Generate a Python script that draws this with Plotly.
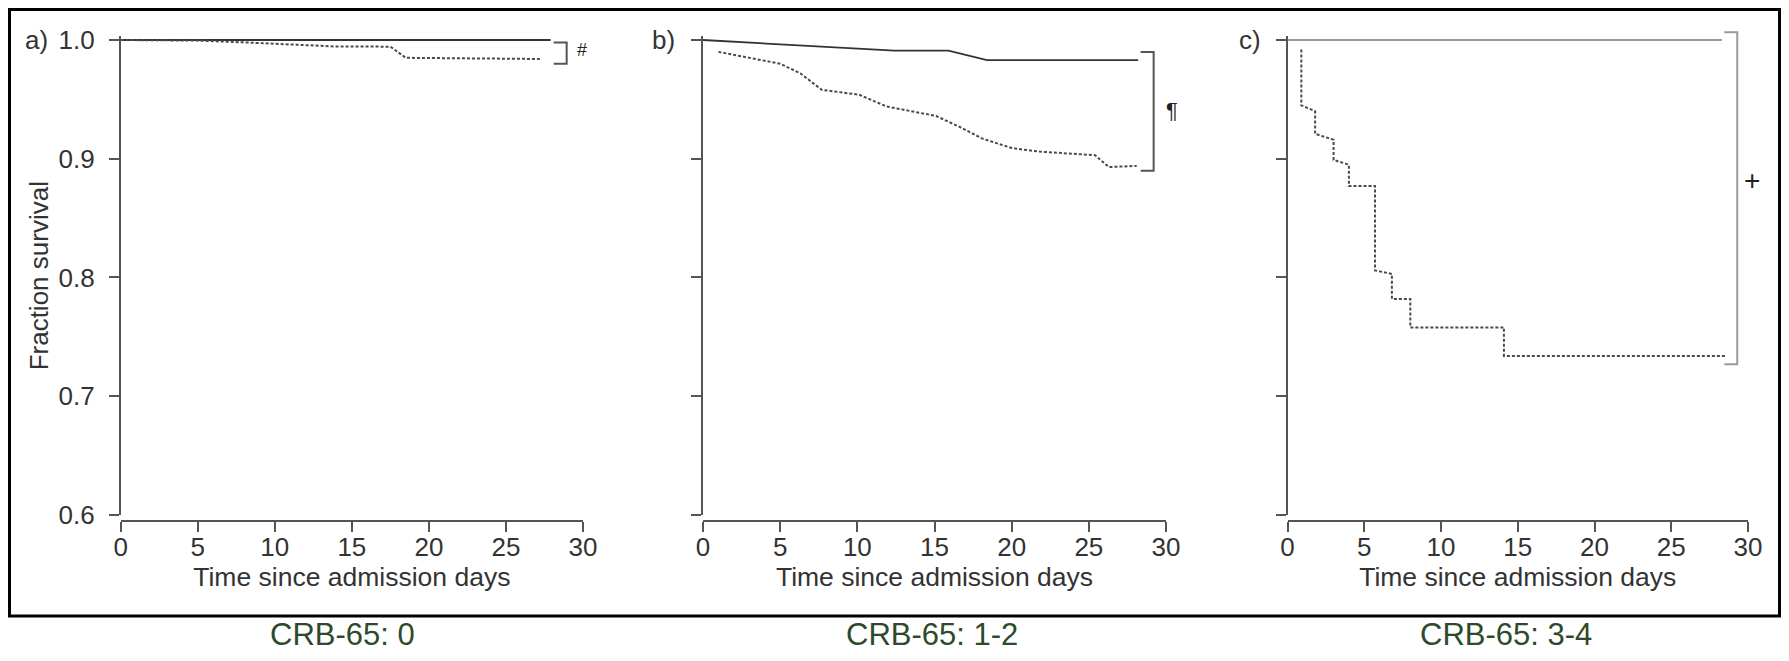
import plotly.graph_objects as go

# The page body has an 8px margin, so the figure is drawn 16px smaller and every
# page-pixel position below is shifted by that margin.
PAGE_W, PAGE_H = 1789, 661
OFF = 8
W, H = PAGE_W - 2 * OFF, PAGE_H - 2 * OFF

# ---------------- data ----------------
panel_labels = ["a)", "b)", "c)"]
captions = ["CRB-65: 0", "CRB-65: 1-2", "CRB-65: 3-4"]
sig_marks = ["#", "¶", "+"]

x_ticks = [0, 5, 10, 15, 20, 25, 30]
y_ticks = [0.6, 0.7, 0.8, 0.9, 1.0]
y_tick_labels = ["0.6", "0.7", "0.8", "0.9", "1.0"]

# Panel a (CRB-65: 0)
a_solid_days = [0, 27.9]
a_solid_surv = [1.0, 1.0]
a_dash_days = [0, 5, 8, 10, 12, 14, 17.5, 18.5, 27.2]
a_dash_surv = [1.0, 0.9995, 0.998, 0.997, 0.9955, 0.9945, 0.9944, 0.985, 0.984]

# Panel b (CRB-65: 1-2)
b_solid_days = [0, 12.4, 15.9, 18.4, 28.2]
b_solid_surv = [1.0, 0.991, 0.991, 0.983, 0.983]
b_dash_days = [1.0, 5.0, 6.3, 7.7, 10.1, 11.9, 15.1, 16.6, 18.1, 20.0, 21.8, 25.4, 26.3, 28.1]
b_dash_surv = [0.990, 0.980, 0.972, 0.958, 0.954, 0.944, 0.936, 0.927, 0.917, 0.909, 0.906, 0.903, 0.893, 0.894]

# Panel c (CRB-65: 3-4)
c_solid_days = [0, 28.3]
c_solid_surv = [1.0, 1.0]
c_dash_days = [0.9, 0.9, 1.8, 1.8, 3.0, 3.0, 4.0, 4.0, 5.7, 5.7, 6.8, 6.8, 8.0, 8.0, 14.1, 14.1, 28.5]
c_dash_surv = [0.992, 0.945, 0.940, 0.921, 0.916, 0.899, 0.895, 0.877, 0.877, 0.806, 0.803, 0.782, 0.782, 0.758, 0.758, 0.734, 0.734]

# comparison brackets (day position, top, bottom)
bracket_day = [28.94, 29.2, 29.3]
bracket_top = [0.998, 0.990, 1.0065]
bracket_bottom = [0.980, 0.890, 0.727]
mark_day = [29.95, 30.4, 30.25]
mark_val = [0.9916, 0.941, 0.882]

# ---------------- layout geometry (page pixels) ----------------
x_px = [(120.7, 583.0), (703.0, 1166.0), (1287.5, 1748.0)]
Y_RANGE = [0.6, 1.003]
PX_PER_UNIT = 1187.5
y_bottom_px = 515.0
y_top_px = y_bottom_px - (Y_RANGE[1] - Y_RANGE[0]) * PX_PER_UNIT
xaxis_line_px = 521.0

FONT = "Liberation Sans, Arial, Helvetica, sans-serif"
TXT = "#333333"
AX = "#555555"


def px2x(p):
    return (p - OFF) / W


def px2y(p):
    return 1 - (p - OFF) / H


def data2paper(i, day, val):
    x0, x1 = x_px[i]
    xp = x0 + day / 30.0 * (x1 - x0)
    yp = y_bottom_px - (val - Y_RANGE[0]) * PX_PER_UNIT
    return px2x(xp), px2y(yp)


fig = go.Figure()

series = [
    (a_solid_days, a_solid_surv, a_dash_days, a_dash_surv, "#333333"),
    (b_solid_days, b_solid_surv, b_dash_days, b_dash_surv, "#333333"),
    (c_solid_days, c_solid_surv, c_dash_days, c_dash_surv, "#9a9a9a"),
]

for i, (sd, ss, dd, ds, scol) in enumerate(series):
    xa = "x" if i == 0 else f"x{i+1}"
    ya = "y" if i == 0 else f"y{i+1}"
    fig.add_trace(go.Scatter(x=sd, y=ss, mode="lines", xaxis=xa, yaxis=ya,
                             line=dict(color=scol, width=1.8), showlegend=False))
    fig.add_trace(go.Scatter(x=dd, y=ds, mode="lines", xaxis=xa, yaxis=ya,
                             line=dict(color="#4a4a4a", width=2, dash="3px,2px"),
                             showlegend=False))

layout = dict(
    width=W, height=H,
    margin=dict(l=0, r=0, t=0, b=0, pad=0, autoexpand=False),
    paper_bgcolor="white", plot_bgcolor="white",
    font=dict(family=FONT, color=TXT, size=26),
    showlegend=False,
)

for i in range(3):
    sfx = "" if i == 0 else str(i + 1)
    x0, x1 = x_px[i]
    layout[f"xaxis{sfx}"] = dict(
        domain=[px2x(x0), px2x(x1)], range=[0, 30], anchor="free",
        position=px2y(xaxis_line_px), automargin=False,
        showline=True, linecolor=AX, linewidth=1.5,
        ticks="outside", ticklen=10, tickwidth=1.5, tickcolor=AX,
        tickvals=x_ticks, tickfont=dict(size=26, color=TXT, family=FONT),
        showgrid=False, zeroline=False, ticklabelstandoff=-7,
        title=dict(text="Time since admission days",
                   font=dict(size=26.5, color=TXT, family=FONT), standoff=4),
    )
    ydict = dict(
        domain=[px2y(y_bottom_px), px2y(y_top_px)], range=Y_RANGE,
        anchor="x" + sfx, automargin=False,
        showline=True, linecolor=AX, linewidth=1.5,
        ticks="outside", ticklen=10, tickwidth=1.5, tickcolor=AX,
        tickvals=y_ticks, ticktext=y_tick_labels,
        showticklabels=(i == 0),
        tickfont=dict(size=26, color=TXT, family=FONT),
        showgrid=False, zeroline=False, ticklabelstandoff=9,
    )
    if i == 0:
        ydict["title"] = dict(text="Fraction survival",
                              font=dict(size=26, color=TXT, family=FONT), standoff=2)
    layout[f"yaxis{sfx}"] = ydict

fig.update_layout(**layout)

shapes = []
# outer frame
shapes.append(dict(type="rect", xref="paper", yref="paper",
                   x0=px2x(9.5), x1=px2x(1779.5), y0=px2y(616), y1=px2y(9.5),
                   line=dict(color="black", width=3), fillcolor="rgba(0,0,0,0)"))

bracket_cols = ["#555555", "#555555", "#9a9a9a"]
annotations = []
for i in range(3):
    xb, yt = data2paper(i, bracket_day[i], bracket_top[i])
    _, yb = data2paper(i, bracket_day[i], bracket_bottom[i])
    arm = 13 / W
    path = f"M {xb-arm} {yt} L {xb} {yt} L {xb} {yb} L {xb-arm} {yb}"
    shapes.append(dict(type="path", xref="paper", yref="paper", path=path,
                       line=dict(color=bracket_cols[i], width=2)))
    mx, my = data2paper(i, mark_day[i], mark_val[i])
    annotations.append(dict(xref="paper", yref="paper", x=mx, y=my, text=sig_marks[i],
                            showarrow=False, xanchor="center", yanchor="middle",
                            font=dict(size=[18, 22, 28][i], color="#222222", family=FONT)))

# panel letters
letter_px = [(36.5, 40), (663, 40), (1250, 40)]
for i, (lx, ly) in enumerate(letter_px):
    annotations.append(dict(xref="paper", yref="paper", x=px2x(lx), y=px2y(ly),
                            text=panel_labels[i], showarrow=False,
                            xanchor="center", yanchor="middle",
                            font=dict(size=26, color=TXT, family=FONT)))

# captions below the frame
cap_px = [(342, 634), (932, 634), (1506, 634)]
for i, (cx, cy) in enumerate(cap_px):
    annotations.append(dict(xref="paper", yref="paper", x=px2x(cx), y=px2y(cy),
                            text=captions[i], showarrow=False,
                            xanchor="center", yanchor="middle",
                            font=dict(size=31, color="#2d4a2b", family=FONT)))

fig.update_layout(shapes=shapes, annotations=annotations)

fig.write_html("out.html")
